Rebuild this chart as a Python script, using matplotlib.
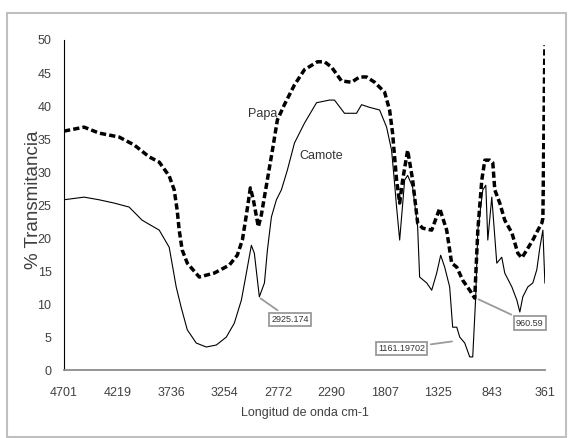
import matplotlib
matplotlib.use("Agg")
import matplotlib.pyplot as plt
from matplotlib.patches import Rectangle

plt.rcParams["font.family"] = ["Liberation Sans", "DejaVu Sans"]

# FTIR spectra (wavenumber cm-1, % transmittance)
papa_wn = [4701, 4520, 4385, 4204, 4068, 3933, 3842, 3752, 3707, 3680, 3662, 3635,
           3589, 3481, 3345, 3210, 3138, 3092, 3056, 3020, 2993, 2948, 2921, 2875,
           2821, 2776, 2713, 2622, 2532, 2415, 2351, 2288, 2198, 2107, 2035, 1972,
           1899, 1809, 1764, 1737, 1701, 1673, 1646, 1601, 1556, 1511, 1466, 1384,
           1312, 1249, 1204, 1158, 1104, 1041, 996, 968, 932, 905, 860, 833, 815,
           770, 725, 661, 607, 571, 526, 472, 426, 390, 381, 363]
papa_t = [36.2, 36.8, 35.9, 35.3, 34.1, 32.3, 31.5, 29.4, 27.3, 24.2, 21.2, 18.2,
          16.2, 14.1, 14.7, 15.9, 17.4, 19.7, 23.5, 27.6, 25.8, 21.7, 23.5, 28.0,
          33.3, 37.9, 40.2, 43.2, 45.5, 46.7, 46.7, 45.9, 43.8, 43.6, 44.4, 44.4,
          43.6, 42.1, 39.4, 35.9, 28.8, 25.3, 28.8, 33.3, 28.8, 22.3, 21.5, 21.2,
          24.5, 21.2, 16.2, 15.6, 13.6, 12.1, 10.9, 21.2, 28.8, 31.8, 31.8, 31.4, 27.3,
          25.3, 22.7, 20.8, 17.7, 17.0, 18.2, 19.7, 21.2, 22.3, 23.0, 49.2]

camote_wn = [4701, 4520, 4385, 4249, 4114, 3996, 3842, 3752, 3689, 3644, 3589, 3508,
             3418, 3327, 3237, 3165, 3101, 3056, 3011, 2984, 2939, 2893, 2866, 2830,
             2785, 2740, 2686, 2622, 2532, 2423, 2306, 2261, 2171, 2062, 2017, 1945,
             1854, 1791, 1746, 1719, 1701, 1673, 1628, 1601, 1556, 1511, 1493, 1429,
             1384, 1339, 1303, 1267, 1222, 1195, 1158, 1131, 1086, 1041, 1014, 987,
             968, 923, 896, 878, 842, 797, 752, 725, 661, 616, 589, 562, 517, 472,
             436, 408, 381, 363]
camote_t = [25.8, 26.2, 25.8, 25.3, 24.7, 22.7, 21.2, 18.6, 12.6, 9.5, 6.1, 4.1,
            3.5, 3.8, 5.0, 7.1, 10.6, 14.7, 18.9, 17.7, 11.1, 13.2, 18.2, 23.2,
            25.8, 27.3, 30.3, 34.4, 37.4, 40.5, 40.9, 40.9, 38.9, 38.9, 40.2, 39.8,
            39.4, 36.8, 33.3, 28.3, 24.7, 19.7, 28.8, 29.5, 27.7, 21.7, 14.1, 13.2,
            12.1, 14.7, 17.4, 15.6, 12.6, 6.5, 6.5, 5.0, 4.1, 2.0, 2.0, 11.1,
            21.2, 27.3, 28.0, 19.7, 26.2, 16.2, 17.1, 14.7, 12.6, 10.6, 8.8, 11.1, 12.6, 13.2,
            15.2, 18.6, 21.2, 13.2]

x_ticks = [4701, 4219, 3736, 3254, 2772, 2290, 1807, 1325, 843, 361]
y_ticks = [0, 5, 10, 15, 20, 25, 30, 35, 40, 45, 50]

# callouts: label, point on the curve, box centre
callouts = [("2925.174", (2948, 11.1), (2659, 7.7)),
            ("1161.19702", (1176, 4.4), (1655, 3.3)),
            ("960.59", (985, 10.9), (499, 7.1))]

fig = plt.figure(figsize=(5.68, 4.38), dpi=100)
ax = fig.add_axes([0.1127, 0.155, 0.847, 0.7537])

ax.plot(papa_wn, papa_t, color="black", lw=2.5, linestyle=(0, (1.8, 0.9)))
ax.plot(camote_wn, camote_t, color="black", lw=0.8)

ax.set_xlim(4701, 361)
ax.set_ylim(0, 50)
ax.set_xticks(x_ticks)
ax.set_yticks(y_ticks)
ax.tick_params(length=0, labelsize=9, colors="#404040")
ax.tick_params(axis="x", pad=12)
ax.tick_params(axis="y", pad=9)
for s in ("top", "right"):
    ax.spines[s].set_visible(False)
ax.spines["left"].set_color("black")
ax.spines["bottom"].set_color("#8c8c8c")
ax.spines["bottom"].set_linewidth(1.3)

ax.text(2912, 38.8, "Papa", fontsize=9, color="#333333", ha="center", va="center")
ax.text(2378, 32.4, "Camote", fontsize=9, color="#333333", ha="center", va="center")

for label, xy, xytext in callouts:
    ax.annotate(label, xy=xy, xytext=xytext, fontsize=6.5, ha="center", va="center",
                color="#333333",
                bbox=dict(boxstyle="square,pad=0.25", fc="white", ec="#9a9a9a", lw=1.3),
                arrowprops=dict(arrowstyle="-", color="#9a9a9a", lw=1.3))

fig.text(33 / 568, 1 - 200 / 438, "% Transmitancia", rotation=90,
         fontsize=13.5, ha="center", va="center", color="#404040")
fig.text(305 / 568, 1 - 413 / 438, "Longitud de onda cm-1", fontsize=9,
         ha="center", va="center", color="#404040")

fig.patches.append(Rectangle((7 / 568, 1 / 438), 559 / 568, 424 / 438,
                             transform=fig.transFigure, fill=False,
                             ec="#c0c0c0", lw=1.5))

fig.savefig("out.png", dpi=100)
